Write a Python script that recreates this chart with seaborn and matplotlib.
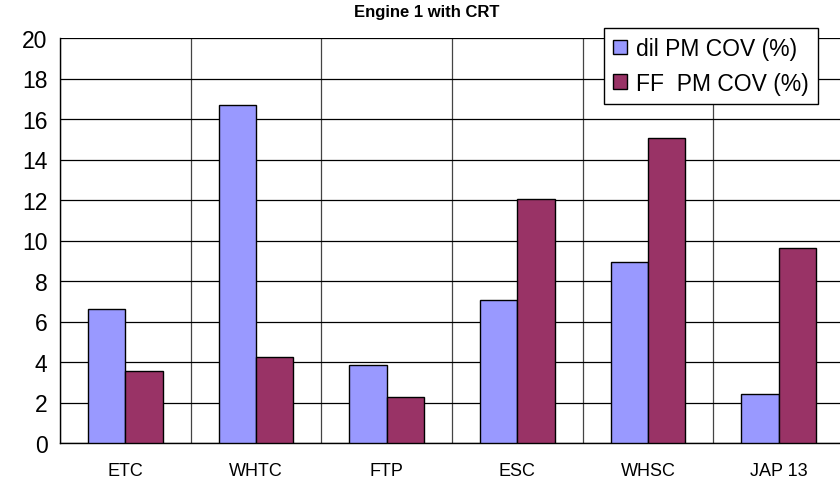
import pandas as pd
import seaborn as sns
import matplotlib.pyplot as plt

# values
cycles = ["ETC", "WHTC", "FTP", "ESC", "WHSC", "JAP 13"]
dil_cov = [6.6, 16.7, 3.85, 7.05, 8.95, 2.4]
ff_cov = [3.55, 4.25, 2.25, 12.05, 15.05, 9.65]
series = ["dil PM COV (%)", "FF  PM COV (%)"]
colors = ["#9999FF", "#993366"]

df = pd.DataFrame({
    "cycle": cycles * 2,
    "cov": dil_cov + ff_cov,
    "series": [series[0]] * len(cycles) + [series[1]] * len(cycles),
})

sns.set_style("white")
plt.rcParams["font.family"] = ["Liberation Sans", "DejaVu Sans"]
plt.rcParams["text.color"] = "black"
plt.rcParams["xtick.color"] = "black"
plt.rcParams["ytick.color"] = "black"

fig = plt.figure(figsize=(8.4, 4.85), dpi=100)
ax = fig.add_axes([60 / 840, 1 - 444 / 485, 784 / 840, 405 / 485])

sns.barplot(data=df, x="cycle", y="cov", hue="series", palette=colors,
            width=0.57, gap=0, edgecolor="black", linewidth=1,
            saturation=1, ax=ax, zorder=3)

ax.set_xlim(-0.5, 5.5)
ax.set_ylim(0, 20)
ax.set_yticks(range(0, 21, 2))
ax.set_xticks([i - 0.5 for i in range(7)], minor=True)
ax.grid(axis="y", which="major", color="black", linewidth=0.9, zorder=0)
ax.grid(axis="x", which="minor", color="#444444", linewidth=0.9, zorder=0)
ax.tick_params(axis="x", which="major", length=0, labelsize=13, pad=14)
ax.tick_params(axis="x", which="minor", length=5, direction="out")
ax.tick_params(axis="y", length=5, direction="out", labelsize=16.5, pad=4)
ax.set_xlabel("")
ax.set_ylabel("")
for s in ["top", "right"]:
    ax.spines[s].set_visible(False)
for s in ["left", "bottom"]:
    ax.spines[s].set_color("black")
    ax.spines[s].set_linewidth(1)

fig.text(427 / 840, 1 - 12 / 485, "Engine 1 with CRT", ha="center", va="center",
         fontsize=12, fontweight="bold")

handles, labels = ax.get_legend_handles_labels()
ax.legend(handles, labels, loc="upper right", bbox_to_anchor=(818 / 840, 1 - 29 / 485),
          bbox_transform=fig.transFigure, fontsize=16.5, frameon=True, fancybox=False,
          edgecolor="black", framealpha=1, handlelength=0.6, handleheight=0.6,
          handletextpad=0.4, borderpad=0.4, labelspacing=0.5, borderaxespad=0)
ax.get_legend().get_frame().set_linewidth(1)
ax.get_legend().set_zorder(5)

fig.savefig("out.png", dpi=100)
